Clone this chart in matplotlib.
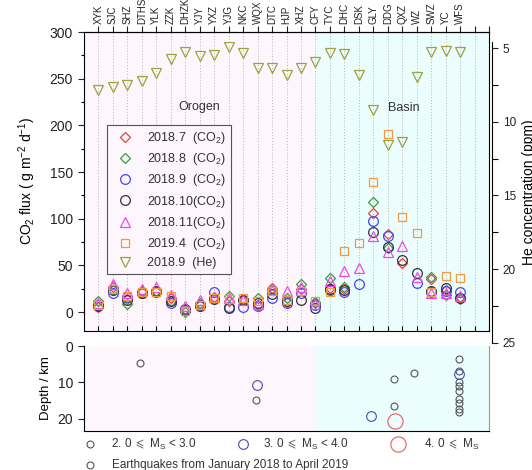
import numpy as np
import matplotlib.pyplot as plt
from matplotlib.lines import Line2D
from matplotlib.ticker import MultipleLocator

plt.rcParams['font.family'] = ['Liberation Sans', 'DejaVu Sans']
plt.rcParams['mathtext.fontset'] = 'custom'
plt.rcParams['mathtext.rm'] = 'Liberation Sans'
plt.rcParams['mathtext.it'] = 'Liberation Sans:italic'
plt.rcParams['mathtext.bf'] = 'Liberation Sans:bold'
plt.rcParams['mathtext.fallback'] = 'stixsans'
plt.rcParams['axes.linewidth'] = 0.8

nan = np.nan

# Sampling sites, west (orogen) to east (basin)
stations = ['XYK', 'SJC', 'SHZ', 'DTHS', 'YLK', 'ZZK', 'DHZK', 'YJY', 'YXZ', 'YJG',
            'NKC', 'WQX', 'DTC', 'HJP', 'XHZ', 'CFY', 'TYC', 'DHC', 'DSK', 'GLY',
            'DDG', 'QXZ', 'WZ', 'SWZ', 'YC', 'WFS']

# Soil CO2 flux, g m-2 d-1
co2_2018_7 = [5, 27, 14, 22, 22, 15, 3, 8, 16, 12, 13, 7, 26, 11, 25,
              10, 26, 25, nan, 106, 84, 52, nan, 35, 24, 16]
co2_2018_8 = [12, 24, 9, 21, 23, 12, 0, 10, 14, 17, 14, 15, 24, 15, 30,
              11, 36, 27, nan, 118, 69, nan, nan, 37, 18, 14]
co2_2018_9 = [8, 20, 16, 20, 21, 10, 3, 7, 21, 5, 5, 6, 15, 10, 20,
              8, 24, 21, 30, 98, 81, nan, 31, 21, 22, 21]
co2_2018_10 = [6, 24, 13, 20, 22, 12, 2, 6, 14, 4, 13, 10, 19, 12, 13,
               4, 25, 24, nan, 86, 70, 56, 42, 22, 26, 15]
co2_2018_11 = [10, 30, 20, 25, 27, 18, 6, 13, 16, 15, 13, 9, 24, 22, 27,
               9, 33, 44, 47, 81, 64, 71, 37, 20, 20, 17]
co2_2019_4 = [8, 25, 17, 21, 21, 17, 1, 7, 15, 14, 15, 12, 22, 13, 22,
              12, 21, 65, 74, 139, 191, 102, 85, 21, 39, 36]

# Soil gas He, ppm
he_2018_9 = [7.85, 7.6, 7.5, 7.22, 6.7, 5.75, 5.23, 5.52, 5.46, 4.91, 5.3, 6.36, 6.32,
             6.79, 6.32, 5.93, 5.3, 5.41, 6.84, 9.19, 11.57, 11.34, 6.97, 5.27, 5.16, 5.27]

# Earthquakes Jan 2018 - Apr 2019, located on the site axis
eq_small_x = [3.84, 11.9, 21.4, 22.8, 21.4, 25.9, 25.9, 25.9, 25.9, 25.9, 25.9, 25.9, 25.9, 25.9]
eq_small_depth = [4.6, 14.8, 9.0, 7.4, 16.4, 3.6, 6.8, 9.9, 11.0, 12.3, 14.6, 15.6, 17.4, 18.1]
eq_mid_x = [11.95, 19.87, 25.9]
eq_mid_depth = [10.7, 19.2, 7.8]
eq_big_x = [21.5]
eq_big_depth = [20.5]

series = [
    (co2_2018_7, '2018.7  (CO$_2$)', 'D', 5.6, '#f03c3c'),
    (co2_2018_8, '2018.8  (CO$_2$)', 'D', 5.6, '#3c9a3c'),
    (co2_2018_9, '2018.9  (CO$_2$)', 'o', 7.0, '#4646f0'),
    (co2_2018_10, '2018.10(CO$_2$)', 'o', 7.0, '#333333'),
    (co2_2018_11, '2018.11(CO$_2$)', '^', 7.2, '#f046f0'),
    (co2_2019_4, '2019.4  (CO$_2$)', 's', 6.0, '#f39a3c'),
]

pink = '#fdf6fc'
cyan = '#ebfdfd'
txt = '#333333'
pos = np.arange(1, len(stations) + 1)

fig = plt.figure(figsize=(5.32, 4.70), dpi=100)
ax = fig.add_axes([0.1579, 0.2964, 0.7613, 0.6355])
ax_he = fig.add_axes([0.1579, 0.2709, 0.7613, 0.6404])
ax_eq = fig.add_axes([0.1579, 0.0830, 0.7613, 0.1808])

# --- CO2 panel ---
ax.axvspan(0, 16, color=pink, lw=0, zorder=0)
ax.axvspan(16, 28, color=cyan, lw=0, zorder=0)
for p in range(1, 28):
    ax.axvline(p, color='#b4b4b4', ls=(0, (1, 2)), lw=0.7, zorder=1)

for vals, lab, m, ms, c in series:
    ax.plot(pos, vals, ls='none', marker=m, ms=ms, mfc='none', mec=c, mew=0.9,
            label=lab, zorder=3)

ax.set_xlim(0, 28)
ax.set_ylim(-20, 300)
ax.yaxis.set_major_locator(MultipleLocator(50))
ax.yaxis.set_minor_locator(MultipleLocator(25))
ax.tick_params(axis='y', which='major', direction='out', length=4.5, width=0.8,
               labelsize=10, colors='#222222')
ax.tick_params(axis='y', which='minor', direction='out', length=2.5, width=0.8)
ax.set_xticks(range(1, 29))
ax.tick_params(axis='x', direction='in', length=3.5, width=0.8, bottom=True,
               top=False, labelbottom=False)
top = ax.secondary_xaxis('top')
top.set_xticks(range(1, 29), stations + ['', ''])
top.tick_params(direction='out', length=4.5, width=0.8, labelsize=7, pad=1,
                labelrotation=90, colors='#222222')
ax.set_ylabel('CO$_2$ flux ( g m$^{-2}$ d$^{-1}$)', fontsize=10, labelpad=8)

ax.text(8.0, 220, 'Orogen', fontsize=9, color=txt, ha='center', va='center')
ax.text(22.1, 219, 'Basin', fontsize=9, color=txt, ha='center', va='center')

# --- He on its own right-hand scale ---
he_line, = ax_he.plot(pos, he_2018_9, ls='none', marker='v', ms=7.5, mfc='none',
                      mec='#a0a03c', mew=0.9, label='2018.9  (He)')
ax_he.patch.set_visible(False)
for s in ['top', 'left', 'bottom']:
    ax_he.spines[s].set_visible(False)
ax_he.spines['right'].set_position(('outward', 2))
ax_he.set_xlim(0, 28)
ax_he.set_ylim(25, 4.55)
ax_he.set_xticks([])
ax_he.yaxis.tick_right()
ax_he.yaxis.set_major_locator(MultipleLocator(5))
ax_he.yaxis.set_minor_locator(MultipleLocator(2.5))
ax_he.tick_params(axis='y', which='major', direction='out', length=4.5, width=0.8,
                  labelsize=8.5, colors='#222222')
ax_he.tick_params(axis='y', which='minor', direction='out', length=4.5, width=0.8)
ax_he.yaxis.set_label_position('right')
ax_he.set_ylabel('He concentration (ppm)', fontsize=10, labelpad=4)

handles, labels = ax.get_legend_handles_labels()
handles.append(he_line)
labels.append(he_line.get_label())
leg = ax.legend(handles, labels, loc='upper left', bbox_to_anchor=(0.057, 0.689),
                borderaxespad=0, numpoints=1, fontsize=9, fancybox=False,
                edgecolor='#555555', facecolor=pink, framealpha=1,
                labelspacing=0.42, handletextpad=0.8, borderpad=0.4)
leg.get_frame().set_linewidth(0.8)
for t in leg.get_texts():
    t.set_color(txt)

# --- earthquake depth panel ---
ax_eq.axvspan(0, 16, color=pink, lw=0, zorder=0)
ax_eq.axvspan(16, 28, color=cyan, lw=0, zorder=0)
ax_eq.plot(eq_small_x, eq_small_depth, ls='none', marker='o', ms=5, mfc='none',
           mec='#555555', mew=0.8)
ax_eq.plot(eq_mid_x, eq_mid_depth, ls='none', marker='o', ms=7, mfc='none',
           mec='#4a4ab8', mew=0.8)
ax_eq.plot(eq_big_x, eq_big_depth, ls='none', marker='o', ms=11, mfc='none',
           mec='#ee5a5a', mew=0.8)
ax_eq.set_xlim(0, 28)
ax_eq.set_ylim(23.3, 0)
ax_eq.set_xticks([])
ax_eq.set_yticks([0, 10, 20])
ax_eq.tick_params(axis='y', direction='out', length=4.5, width=0.8, labelsize=10,
                  colors='#222222')
ax_eq.spines['top'].set_visible(False)
ax_eq.spines['right'].set_color('#999999')
ax_eq.set_ylabel('Depth / km', fontsize=9.5, labelpad=4)

# magnitude key under the figure
key_row = 0.0553
key = [(0.1692, 0.2083, 5, '#555555', '2. 0 $\\leqslant$ M$_\\mathrm{S}$ < 3.0'),
       (0.456, 0.4953, 7, '#4a4ab8', '3. 0 $\\leqslant$ M$_\\mathrm{S}$ < 4.0'),
       (0.749, 0.797, 11, '#ee5a5a', '4. 0 $\\leqslant$ M$_\\mathrm{S}$')]
for mx, tx, ms, c, s in key:
    fig.add_artist(Line2D([mx], [key_row], transform=fig.transFigure, marker='o',
                          ms=ms, mfc='none', mec=c, mew=0.8, ls='none'))
    fig.text(tx, key_row, s, fontsize=8.5, color=txt, va='center')
fig.add_artist(Line2D([0.1692], [0.0106], transform=fig.transFigure, marker='o',
                      ms=5, mfc='none', mec='#555555', mew=0.8, ls='none'))
fig.text(0.2096, 0.0106, 'Earthquakes from January 2018 to April 2019', fontsize=8.5,
         color=txt, va='center')

fig.savefig('out.png', dpi=100)
